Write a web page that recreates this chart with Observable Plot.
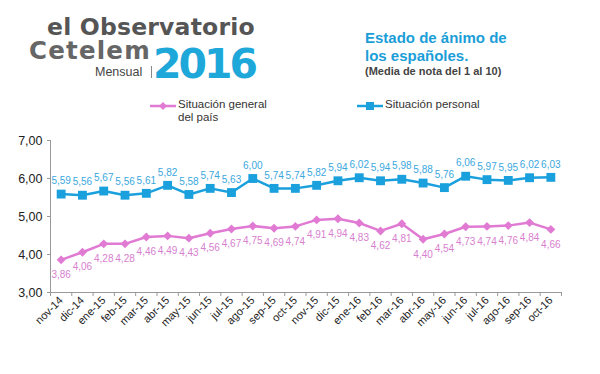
<!DOCTYPE html>
<html><head><meta charset="utf-8">
<script src="https://cdn.jsdelivr.net/npm/d3@7"></script>
<script src="https://cdn.jsdelivr.net/npm/@observablehq/plot@0.6"></script>
<style>
body{margin:0;background:#fff;font-family:Arial,"Liberation Sans",sans-serif;}
#wrap{position:relative;width:600px;height:374px;overflow:hidden;}
.abs{position:absolute;white-space:nowrap;}
.logo{font-family:"DejaVu Sans",sans-serif;font-weight:bold;}
</style></head>
<body><div id="wrap">
<div id="chart" class="abs" style="left:0;top:0"></div>
<div class="abs logo" style="left:47px;top:18px;font-size:23.5px;line-height:18px;color:#555;letter-spacing:0.2px">el Observatorio<br><span style="position:relative;left:-18px;top:6px;font-size:24.5px;color:#666;letter-spacing:1.2px">Cetelem</span></div>
<div class="abs" style="left:95px;top:66px;font-size:12.5px;line-height:13px;color:#444">Mensual</div>
<div class="abs" style="left:151px;top:66px;width:1px;height:12px;background:#888"></div>
<div class="abs logo" style="left:153px;top:49px;font-size:41px;line-height:30px;color:#1ea8d9;letter-spacing:-3px">2016</div>
<div class="abs" style="left:365px;top:29px;font-size:15px;font-weight:bold;color:#1b9ed8;line-height:18px">Estado de ánimo de<br>los españoles.</div>
<div class="abs" style="left:365px;top:65px;font-size:11px;font-weight:bold;color:#444;line-height:13px">(Media de nota del 1 al 10)</div>
<div class="abs" style="left:150px;top:98px;"><svg width="26" height="12"><line x1="0" y1="6" x2="26" y2="6" stroke="#e07ad3" stroke-width="2.5"/><path d="M13,2L17,6L13,10L9,6Z" fill="#e07ad3"/></svg></div>
<div class="abs" style="left:178px;top:98px;font-size:11.5px;color:#333;line-height:13px">Situación general<br>del país</div>
<div class="abs" style="left:357px;top:98px;"><svg width="26" height="12"><line x1="0" y1="6" x2="26" y2="6" stroke="#1aa0dc" stroke-width="2.5"/><rect x="9" y="2" width="8" height="8" fill="#1aa0dc"/></svg></div>
<div class="abs" style="left:385px;top:98px;font-size:11.5px;color:#333;line-height:13px">Situación personal</div>
</div>
<script>
const months = ["nov-14","dic-14","ene-15","feb-15","mar-15","abr-15","may-15","jun-15","jul-15","ago-15","sep-15","oct-15","nov-15","dic-15","ene-16","feb-16","mar-16","abr-16","may-16","jun-16","jul-16","ago-16","sep-16","oct-16"];
const personal = [5.59,5.56,5.67,5.56,5.61,5.82,5.58,5.74,5.63,6.00,5.74,5.74,5.82,5.94,6.02,5.94,5.98,5.88,5.76,6.06,5.97,5.95,6.02,6.03];
const general = [3.86,4.06,4.28,4.28,4.46,4.49,4.43,4.56,4.67,4.75,4.69,4.74,4.91,4.94,4.83,4.62,4.81,4.40,4.54,4.73,4.74,4.76,4.84,4.66];
const yTicks = [3,4,5,6,7];

const data = months.map((m,i)=>({i, m, personal: personal[i], general: general[i]}));
const fmt = v => v.toFixed(2).replace(".", ",");
const idx = d3.range(months.length);
const bounds = d3.range(months.length + 1).map(k => k - 0.5);
const blue = "#1aa0dc", pink = "#e07ad3";

const chart = Plot.plot({
  width: 600, height: 374,
  marginTop: 140, marginBottom: 82, marginLeft: 50, marginRight: 39,
  style: {fontFamily: "Arial, 'Liberation Sans', sans-serif", background: "transparent"},
  x: {type: "linear", domain: [-0.5, months.length - 0.5]},
  y: {domain: [3, 7]},
  marks: [
    Plot.axisY(yTicks, {tickSize: 3, tickPadding: 5, stroke: "#999", fill: "#222", fontSize: 12.5, tickFormat: fmt, label: null}),
    Plot.ruleX([-0.5], {stroke: "#999"}),
    Plot.ruleY([3], {stroke: "#999"}),
    Plot.axisX(bounds, {tickSize: 4, stroke: "#999", tickFormat: () => "", label: null}),
    Plot.axisX(idx, {tickSize: 0, tickPadding: 6, tickRotate: -45, fill: "#222", fontSize: 11, tickFormat: i => months[i], label: null}),
    Plot.line(data, {x: "i", y: "general", stroke: pink, strokeWidth: 2.5}),
    Plot.dot(data, {x: "i", y: "general", symbol: "diamond2", r: 4, fill: pink}),
    Plot.line(data, {x: "i", y: "personal", stroke: blue, strokeWidth: 2.5}),
    Plot.dot(data, {x: "i", y: "personal", symbol: "square", r: 5, fill: blue}),
    Plot.text(data, {x: "i", y: "personal", text: d => fmt(d.personal), dy: -13, fill: "#3aa8de", fontSize: 10}),
    Plot.text(data, {x: "i", y: "general", text: d => fmt(d.general), dy: 15, fill: "#d880cf", fontSize: 10})
  ]
});
document.getElementById("chart").appendChild(chart);
</script>
</body></html>
